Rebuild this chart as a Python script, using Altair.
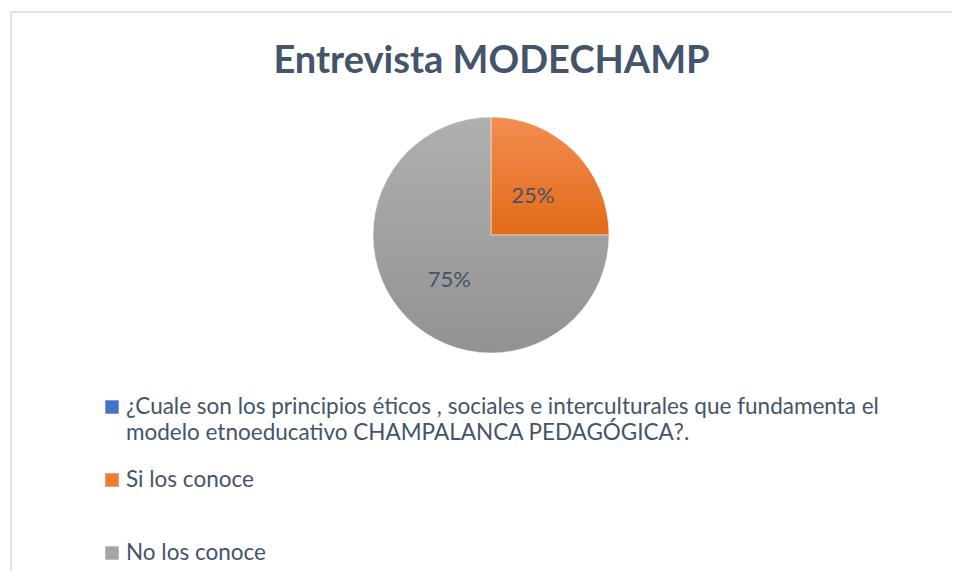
import altair as alt
import pandas as pd

# ---- data -------------------------------------------------------------
categories = [
    "¿Cuale son los  principios éticos , sociales e interculturales que fundamenta el\nmodelo etnoeducativo CHAMPALANCA PEDAGÓGICA?.",
    "Si los conoce",
    "No los conoce",
]
values = [0, 25, 75]
percent_labels = ["0%", "25%", "75%"]
legend_colors = ["#4472C4", "#ED7D31", "#A5A5A5"]
order_idx = [0, 1, 2]

title_text = ["Entrevista MODECHAMP"]

df = pd.DataFrame({"cat": categories, "value": values,
                   "label": percent_labels, "ord": order_idx})
title_df = pd.DataFrame({"title": title_text})

# ---- styles -----------------------------------------------------------
TEXT_COLOR = "#44546A"
FONT = "Lato"
orange_grad = {"gradient": "linear", "x1": 0, "y1": 0, "x2": 0, "y2": 1,
               "stops": [{"offset": 0, "color": "#F28D51"},
                         {"offset": 1, "color": "#E36A18"}]}
gray_grad = {"gradient": "linear", "x1": 0, "y1": 0, "x2": 0, "y2": 1,
             "stops": [{"offset": 0, "color": "#B0B0B0"},
                       {"offset": 1, "color": "#929292"}]}

W, H = 944, 473
CX, CY, R = 483, 137, 118

base = alt.Chart(df)

theta = alt.Theta("value:Q", stack=True)

pie = base.transform_filter("datum.value > 0").mark_arc(
    radius=R, stroke="#FFFFFF", strokeWidth=0.8, strokeOpacity=0.6
).encode(
    theta=theta,
    order=alt.Order("ord:Q"),
    fill=alt.condition("datum.cat == 'Si los conoce'",
                       alt.value(orange_grad), alt.value(gray_grad)),
    x=alt.value(CX), y=alt.value(CY),
)

pct = base.transform_filter("datum.value > 0").mark_text(
    radius=59, font=FONT, fontSize=22, color=TEXT_COLOR, dy=3
).encode(
    theta=theta,
    order=alt.Order("ord:Q"),
    text="label:N",
    x=alt.value(CX), y=alt.value(CY),
)

yenc = alt.Y("cat:N", sort=categories, axis=None,
             scale=alt.Scale(type="point", domain=categories,
                             range=[309, 455], padding=0))

squares = base.mark_square(size=180, opacity=1).encode(
    x=alt.value(104),
    y=yenc,
    color=alt.Color("cat:N", legend=None,
                    scale=alt.Scale(domain=categories, range=legend_colors)),
)

legend_text = base.mark_text(
    align="left", baseline="top", dy=-11, font=FONT, fontSize=22.5,
    color=TEXT_COLOR, lineBreak="\n", lineHeight=26
).encode(
    x=alt.value(118),
    y=yenc,
    text="cat:N",
)

title = alt.Chart(title_df).mark_text(
    font=FONT, fontSize=38, fontWeight="bold", color=TEXT_COLOR,
    align="center", baseline="alphabetic"
).encode(
    x=alt.value(483.5), y=alt.value(-25), text="title:N"
)

# chart frame (top and left edge visible in the reference)
frame_top = base.mark_rule(color="#DEE2E8", strokeWidth=1.5).encode(
    x=alt.value(3), x2=alt.value(W), y=alt.value(-86)
)
frame_left = base.mark_rule(color="#DEE2E8", strokeWidth=1.5).encode(
    x=alt.value(3), y=alt.value(-86), y2=alt.value(H + 10)
)

chart = alt.layer(frame_top, frame_left, title, pie, pct, squares, legend_text).properties(
    width=W, height=H,
    background="#FFFFFF",
    autosize=alt.AutoSizeParams(type="none"),
    padding={"top": 90, "left": 0, "right": 0, "bottom": 0},
).configure_view(strokeWidth=0, stroke="transparent")

chart.save("out.html", embed_options={"renderer": "svg", "actions": False})
